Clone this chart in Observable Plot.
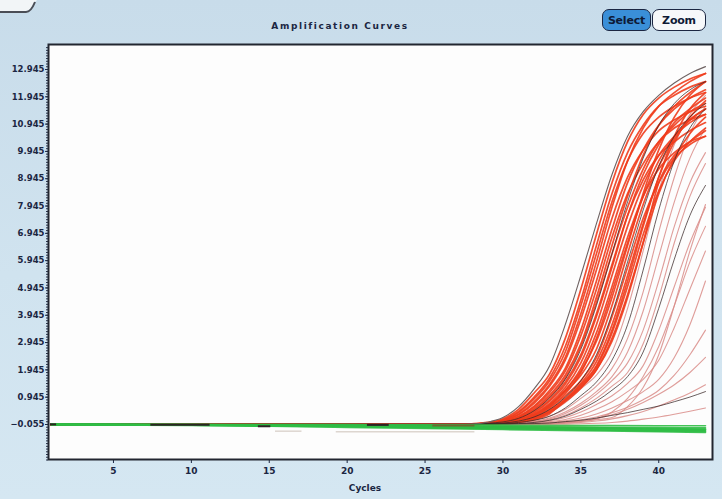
<!DOCTYPE html>
<html>
<head>
<meta charset="utf-8">
<script src="https://cdn.jsdelivr.net/npm/d3@7"></script>
<script src="https://cdn.jsdelivr.net/npm/@observablehq/plot@0.6"></script>
<style>
  html, body { margin: 0; padding: 0; }
  #screen {
    position: relative; width: 722px; height: 499px; overflow: hidden;
    background: linear-gradient(180deg, #c8dcea 0%, #d0e3ef 55%, #d5e7f2 100%);
    font-family: "DejaVu Sans", sans-serif;
  }
  #chart svg { display: block; }
  .title {
    position: absolute; left: 230px; width: 220px; top: 21px; text-align: center;
    font-weight: bold; font-size: 9px; letter-spacing: 1.6px; color: #1b2642;
  }
  .btn {
    position: absolute; top: 9px; height: 22px; line-height: 22px; text-align: center;
    font-weight: bold; font-size: 11px; color: #0e1a36; border: 1.5px solid #1b2642;
    border-radius: 7px; box-sizing: border-box; letter-spacing: -0.2px;
  }
  .btn.select { left: 602px; width: 49px; background: #3a8fd8; }
  .btn.zoom { left: 652px; width: 54px; background: #f6f8fa; }
  .xlabel {
    position: absolute; left: 330px; width: 70px; top: 483px; text-align: center;
    font-weight: bold; font-size: 9px; color: #1b2642;
  }
  .tab { position: absolute; left: 0; top: 0; }
</style>
</head>
<body>
<div id="screen">
  <div id="chart"></div>
  <svg class="tab" width="40" height="16">
    <path d="M0,0 L37,0 L33,4 Q30,11 26,11 L0,11 Z" fill="#f2f5f7"></path>
    <path d="M0,12 L26,12 Q31,12 35,2" fill="none" stroke="#4a4d55" stroke-width="2"></path>
  </svg>
  <div class="title">Amplification Curves</div>
  <div class="btn select">Select</div>
  <div class="btn zoom">Zoom</div>
  <div class="xlabel">Cycles</div>
</div>
<script>
// Fluorescence readings per well: value at cycle 1, then every cycle from 27 to 43
const ampCycles = [1, 27, 28, 29, 30, 31, 32, 33, 34, 35, 36, 37, 38, 39, 40, 41, 42, 43];

// Positive wells (red)
const redCurves = [
  [-0.05, -0.05, -0.03, 0.02, 0.15, 0.5, 1.1, 1.8, 3.1, 4.9, 6.9, 8.8, 10.3, 11.3, 11.9, 12.3, 12.6, 12.8],
  [-0.05, -0.05, -0.04, 0.0, 0.12, 0.42, 0.95, 1.65, 2.8, 4.5, 6.5, 8.4, 9.9, 10.9, 11.6, 12.0, 12.3, 12.5],
  [-0.05, -0.06, -0.04, 0.0, 0.1, 0.38, 0.88, 1.55, 2.6, 4.3, 6.2, 8.1, 9.6, 10.6, 11.2, 11.6, 11.9, 12.1],
  [-0.05, -0.05, -0.05, -0.02, 0.08, 0.32, 0.78, 1.42, 2.4, 4.0, 5.9, 7.9, 9.6, 10.8, 11.6, 12.1, 12.5, 12.8],
  [-0.06, -0.05, -0.04, 0.0, 0.08, 0.3, 0.72, 1.35, 2.3, 3.8, 5.6, 7.5, 9.0, 10.0, 10.7, 11.1, 11.4, 11.6],
  [-0.05, -0.05, -0.05, -0.02, 0.06, 0.25, 0.62, 1.2, 2.0, 3.4, 5.2, 7.1, 8.8, 10.0, 10.9, 11.5, 11.9, 12.2],
  [-0.05, -0.06, -0.05, 0.0, 0.05, 0.22, 0.58, 1.12, 1.9, 3.2, 4.9, 6.8, 8.4, 9.5, 10.3, 10.8, 11.1, 11.3],
  [-0.05, -0.05, -0.05, -0.02, 0.04, 0.2, 0.52, 1.02, 1.75, 2.9, 4.6, 6.5, 8.3, 9.8, 10.9, 11.6, 12.1, 12.5],
  [-0.06, -0.05, -0.04, 0.0, 0.04, 0.18, 0.48, 0.95, 1.65, 2.8, 4.4, 6.2, 7.9, 9.3, 10.3, 10.9, 11.4, 11.7],
  [-0.05, -0.05, -0.05, -0.02, 0.03, 0.15, 0.42, 0.85, 1.5, 2.5, 4.0, 5.8, 7.6, 8.9, 9.8, 10.3, 10.7, 11.0],
  [-0.05, -0.06, -0.05, -0.03, 0.02, 0.13, 0.38, 0.8, 1.42, 2.4, 3.9, 5.7, 7.6, 9.1, 10.2, 11.0, 11.5, 11.9],
  [-0.05, -0.05, -0.05, -0.02, 0.02, 0.12, 0.34, 0.72, 1.3, 2.2, 3.6, 5.4, 7.2, 8.7, 9.8, 10.5, 11.0, 11.3],
  [-0.06, -0.05, -0.04, 0.0, 0.02, 0.1, 0.3, 0.66, 1.2, 2.0, 3.3, 5.0, 6.8, 8.3, 9.3, 9.9, 10.3, 10.5],
  [-0.05, -0.06, -0.05, -0.03, 0.0, 0.08, 0.26, 0.58, 1.08, 1.85, 3.1, 4.8, 6.6, 8.3, 9.6, 10.5, 11.1, 11.5],
  [-0.05, -0.05, -0.05, -0.02, 0.02, 0.1, 0.28, 0.62, 1.15, 1.75, 2.7, 4.3, 6.2, 8.0, 9.4, 10.4, 11.1, 11.5],
  [-0.06, -0.05, -0.05, -0.02, 0.0, 0.08, 0.24, 0.55, 1.0, 1.55, 2.4, 3.9, 5.7, 7.5, 8.8, 9.7, 10.2, 10.5],
  [-0.05, -0.06, -0.05, -0.03, 0.0, 0.06, 0.2, 0.48, 0.9, 1.45, 2.25, 3.6, 5.4, 7.3, 9.0, 10.3, 11.2, 11.8],
  [-0.05, -0.05, -0.05, -0.03, -0.01, 0.05, 0.17, 0.42, 0.82, 1.35, 2.05, 3.3, 5.0, 6.9, 8.5, 9.6, 10.3, 10.8],
  [-0.06, -0.05, -0.05, -0.02, -0.01, 0.04, 0.14, 0.38, 0.78, 1.28, 1.95, 3.1, 4.7, 6.6, 8.4, 9.7, 10.6, 11.2],
  [-0.05, -0.06, -0.05, -0.03, -0.02, 0.03, 0.12, 0.34, 0.85, 1.3, 1.95, 3.0, 4.6, 6.6, 8.8, 9.8, 10.3, 10.7],
  [-0.05, -0.05, -0.04, -0.02, 0.02, 0.1, 0.3, 0.66, 1.2, 1.9, 3.0, 4.6, 6.5, 8.4, 10.0, 11.2, 12.0, 12.5],
  [-0.05, -0.05, -0.05, -0.03, 0.0, 0.06, 0.18, 0.44, 0.85, 1.4, 2.1, 3.4, 5.2, 7.2, 9.0, 10.5, 11.5, 12.1]
];

// Outermost trace, drawn in grey
const outerCurve = [-0.05, -0.05, -0.04, 0.03, 0.2, 0.6, 1.25, 2.1, 3.6, 5.4, 7.3, 9.1, 10.5, 11.4, 12.0, 12.45, 12.8, 13.05];

// Wells drawn in dark traces
const darkCurves = [
  [-0.05, -0.05, -0.05, -0.01, 0.04, 0.17, 0.45, 0.92, 1.6, 2.7, 4.3, 6.2, 8.1, 9.7, 10.9, 11.7, 12.2, 12.5],
  [-0.05, -0.05, -0.05, -0.02, 0.0, 0.07, 0.22, 0.5, 0.95, 1.55, 2.5, 4.0, 5.9, 7.8, 9.4, 10.5, 11.2, 11.7],
  [-0.05, -0.05, -0.05, -0.03, -0.02, 0.02, 0.1, 0.25, 0.55, 1.0, 1.5, 2.3, 3.6, 5.6, 7.8, 9.6, 10.8, 11.5],
  [-0.06, -0.06, -0.05, -0.04, -0.03, -0.02, 0.02, 0.1, 0.25, 0.5, 0.8, 1.2, 1.7, 2.6, 4.2, 6.0, 7.6, 8.7],
  [-0.06, -0.06, -0.06, -0.05, -0.04, -0.03, -0.02, 0.0, 0.05, 0.1, 0.18, 0.28, 0.38, 0.5, 0.62, 0.78, 0.95, 1.15]
];

// Late / weak wells (pale traces)
const paleCurves = [
  [-0.05, -0.05, -0.05, -0.03, -0.01, 0.04, 0.15, 0.38, 0.75, 1.25, 1.75, 2.6, 4.2, 6.3, 8.5, 10.2, 11.3, 12.0],
  [-0.05, -0.05, -0.05, -0.03, -0.02, 0.02, 0.1, 0.25, 0.5, 0.9, 1.35, 2.0, 3.1, 4.8, 7.0, 9.0, 10.6, 11.6],
  [-0.06, -0.05, -0.05, -0.04, -0.03, 0.0, 0.06, 0.18, 0.4, 0.72, 1.15, 1.7, 2.6, 4.1, 6.1, 8.1, 9.7, 10.8],
  [-0.06, -0.06, -0.05, -0.04, -0.03, -0.01, 0.04, 0.12, 0.28, 0.55, 0.9, 1.35, 1.85, 2.9, 4.6, 6.6, 8.3, 9.5],
  [-0.06, -0.06, -0.05, -0.03, -0.03, 0.0, 0.05, 0.15, 0.35, 0.65, 1.05, 1.55, 2.2, 3.4, 5.2, 7.2, 8.8, 9.9],
  [-0.06, -0.06, -0.06, -0.05, -0.04, -0.02, 0.02, 0.08, 0.2, 0.4, 0.68, 1.0, 1.45, 2.1, 3.4, 5.0, 6.6, 7.9],
  [-0.06, -0.06, -0.06, -0.05, -0.04, -0.03, 0.0, 0.05, 0.13, 0.28, 0.5, 0.78, 1.15, 1.6, 2.3, 3.5, 4.9, 6.3],
  [-0.06, -0.06, -0.06, -0.05, -0.05, -0.04, -0.02, 0.02, 0.08, 0.18, 0.33, 0.55, 0.82, 1.15, 1.6, 2.4, 3.6, 5.2],
  [-0.06, -0.06, -0.06, -0.05, -0.05, -0.04, -0.03, 0.0, 0.05, 0.12, 0.22, 0.38, 0.58, 0.85, 1.2, 1.75, 2.5, 3.4],
  [-0.06, -0.07, -0.07, -0.06, -0.05, -0.04, -0.03, -0.01, 0.02, 0.08, 0.16, 0.3, 0.5, 0.75, 1.05, 1.4, 1.85, 2.4],
  [-0.06, -0.07, -0.07, -0.06, -0.06, -0.05, -0.04, -0.03, -0.01, 0.02, 0.07, 0.15, 0.27, 0.42, 0.62, 0.85, 1.1, 1.4],
  [-0.06, -0.07, -0.07, -0.06, -0.06, -0.06, -0.05, -0.05, -0.04, -0.03, -0.01, 0.02, 0.07, 0.14, 0.22, 0.32, 0.43, 0.55],
  [-0.06, -0.06, -0.06, -0.05, -0.05, -0.04, -0.03, -0.02, 0.0, 0.05, 0.15, 0.4, 0.9, 1.7, 2.8, 4.3, 5.9, 7.2],
  [-0.06, -0.06, -0.06, -0.05, -0.05, -0.04, -0.03, -0.01, 0.02, 0.06, 0.12, 0.2, 0.6, 1.3, 2.5, 4.3, 6.3, 8.0]
];

// Negative wells (green), read at fewer cycles since they stay flat
const greenCycles = [1, 5, 10, 15, 20, 25, 30, 35, 40, 43];
const greenCurves = [
  [-0.05, -0.05, -0.05, -0.06, -0.06, -0.07, -0.08, -0.09, -0.10, -0.10],
  [-0.05, -0.06, -0.07, -0.08, -0.09, -0.11, -0.13, -0.15, -0.17, -0.18],
  [-0.06, -0.07, -0.08, -0.10, -0.12, -0.15, -0.18, -0.21, -0.24, -0.26],
  [-0.05, -0.06, -0.08, -0.11, -0.14, -0.17, -0.21, -0.25, -0.29, -0.31],
  [-0.06, -0.07, -0.09, -0.12, -0.16, -0.20, -0.24, -0.28, -0.32, -0.35],
  [-0.05, -0.05, -0.06, -0.07, -0.09, -0.11, -0.14, -0.17, -0.20, -0.22],
  [-0.06, -0.06, -0.07, -0.09, -0.11, -0.13, -0.16, -0.19, -0.22, -0.24],
  [-0.05, -0.06, -0.07, -0.09, -0.12, -0.16, -0.20, -0.24, -0.28, -0.29]
];

// Short stretches of baseline where other traces show on top
const baseFrom  = [0.95, 7.4, 14.3, 21.3, 25.5, 15.4, 19.3];
const baseTo    = [1.35, 11.2, 15.1, 22.7, 28.2, 17.1, 28.2];
const baseValue = [-0.05, -0.06, -0.12, -0.07, -0.09, -0.3, -0.32];
const baseTone  = ["dark", "dark", "dark", "dark", "olive", "pale", "pale"];

// Axis ticks
const yTicks = [-0.055, 0.945, 1.945, 2.945, 3.945, 4.945, 5.945, 6.945, 7.945, 8.945, 9.945, 10.945, 11.945, 12.945];
const xTicks = [5, 10, 15, 20, 25, 30, 35, 40];

function tidy(group, cycles, curves) {
  return curves.flatMap((vals, i) => vals.map((v, j) => ({curve: group + i, cycle: cycles[j], value: v})));
}
const redRows = tidy("r", ampCycles, redCurves);
const outerRows = tidy("o", ampCycles, [outerCurve]);
const darkRows = tidy("d", ampCycles, darkCurves);
const paleRows = tidy("p", ampCycles, paleCurves);
const greenRows = tidy("g", greenCycles, greenCurves);
const baseRows = baseFrom.map((f, i) => ({from: f, to: baseTo[i], value: baseValue[i], tone: baseTone[i]}));
const minorTicks = d3.range(-13, 139).map(i => i / 10 - 0.055);

const navy = "#1b2642";
const toneColor = {dark: "#2c2424", olive: "#6b6a30", pale: "#ddd6d0"};

const chart = Plot.plot({
  width: 722,
  height: 499,
  marginLeft: 48,
  marginRight: 10,
  marginTop: 44,
  marginBottom: 40,
  x: {domain: [0.83, 43.45]},
  y: {domain: [-1.337, 13.86]},
  style: {background: "transparent", fontFamily: "DejaVu Sans, sans-serif"},
  marks: [
    Plot.frame({fill: "#fdfdfd", stroke: null}),
    Plot.axisY(minorTicks, {tickSize: 2, tickFormat: () => "", stroke: "#26304a", label: null}),
    Plot.axisY(yTicks, {
      tickSize: 3, tickPadding: 1, tickFormat: d3.format(".3f"), label: null,
      fontSize: 8.5, fontWeight: "bold", fill: navy, stroke: navy
    }),
    Plot.axisX(xTicks, {
      tickSize: 4, tickPadding: 4, label: null,
      fontSize: 9, fontWeight: "bold", fill: navy, stroke: navy
    }),
    Plot.ruleY(baseRows.filter(d => d.tone === "pale"), {y: "value", x1: "from", x2: "to", stroke: toneColor.pale, strokeWidth: 1.5}),
    Plot.line(paleRows, {x: "cycle", y: "value", z: "curve", stroke: "#d98c88", strokeWidth: 1.1, strokeOpacity: 0.85, curve: "monotone-x"}),
    Plot.line(redRows, {x: "cycle", y: "value", z: "curve", stroke: "#f03c1c", strokeWidth: 1.7, strokeOpacity: 0.9, curve: "monotone-x"}),
    Plot.line(darkRows, {x: "cycle", y: "value", z: "curve", stroke: "#3a2828", strokeWidth: 1, strokeOpacity: 0.75, curve: "monotone-x"}),
    Plot.line(outerRows, {x: "cycle", y: "value", z: "curve", stroke: "#6e6262", strokeWidth: 1.1, curve: "monotone-x"}),
    Plot.line(greenRows, {x: "cycle", y: "value", z: "curve", stroke: "#2fbd45", strokeWidth: 1.6, strokeOpacity: 0.9, curve: "monotone-x"}),
    Plot.ruleY(baseRows.filter(d => d.tone !== "pale"), {y: "value", x1: "from", x2: "to", stroke: d => toneColor[d.tone], strokeWidth: 2}),
    Plot.frame({stroke: "#222630", strokeWidth: 2})
  ]
});
document.getElementById("chart").append(chart);
</script>
</body>
</html>
